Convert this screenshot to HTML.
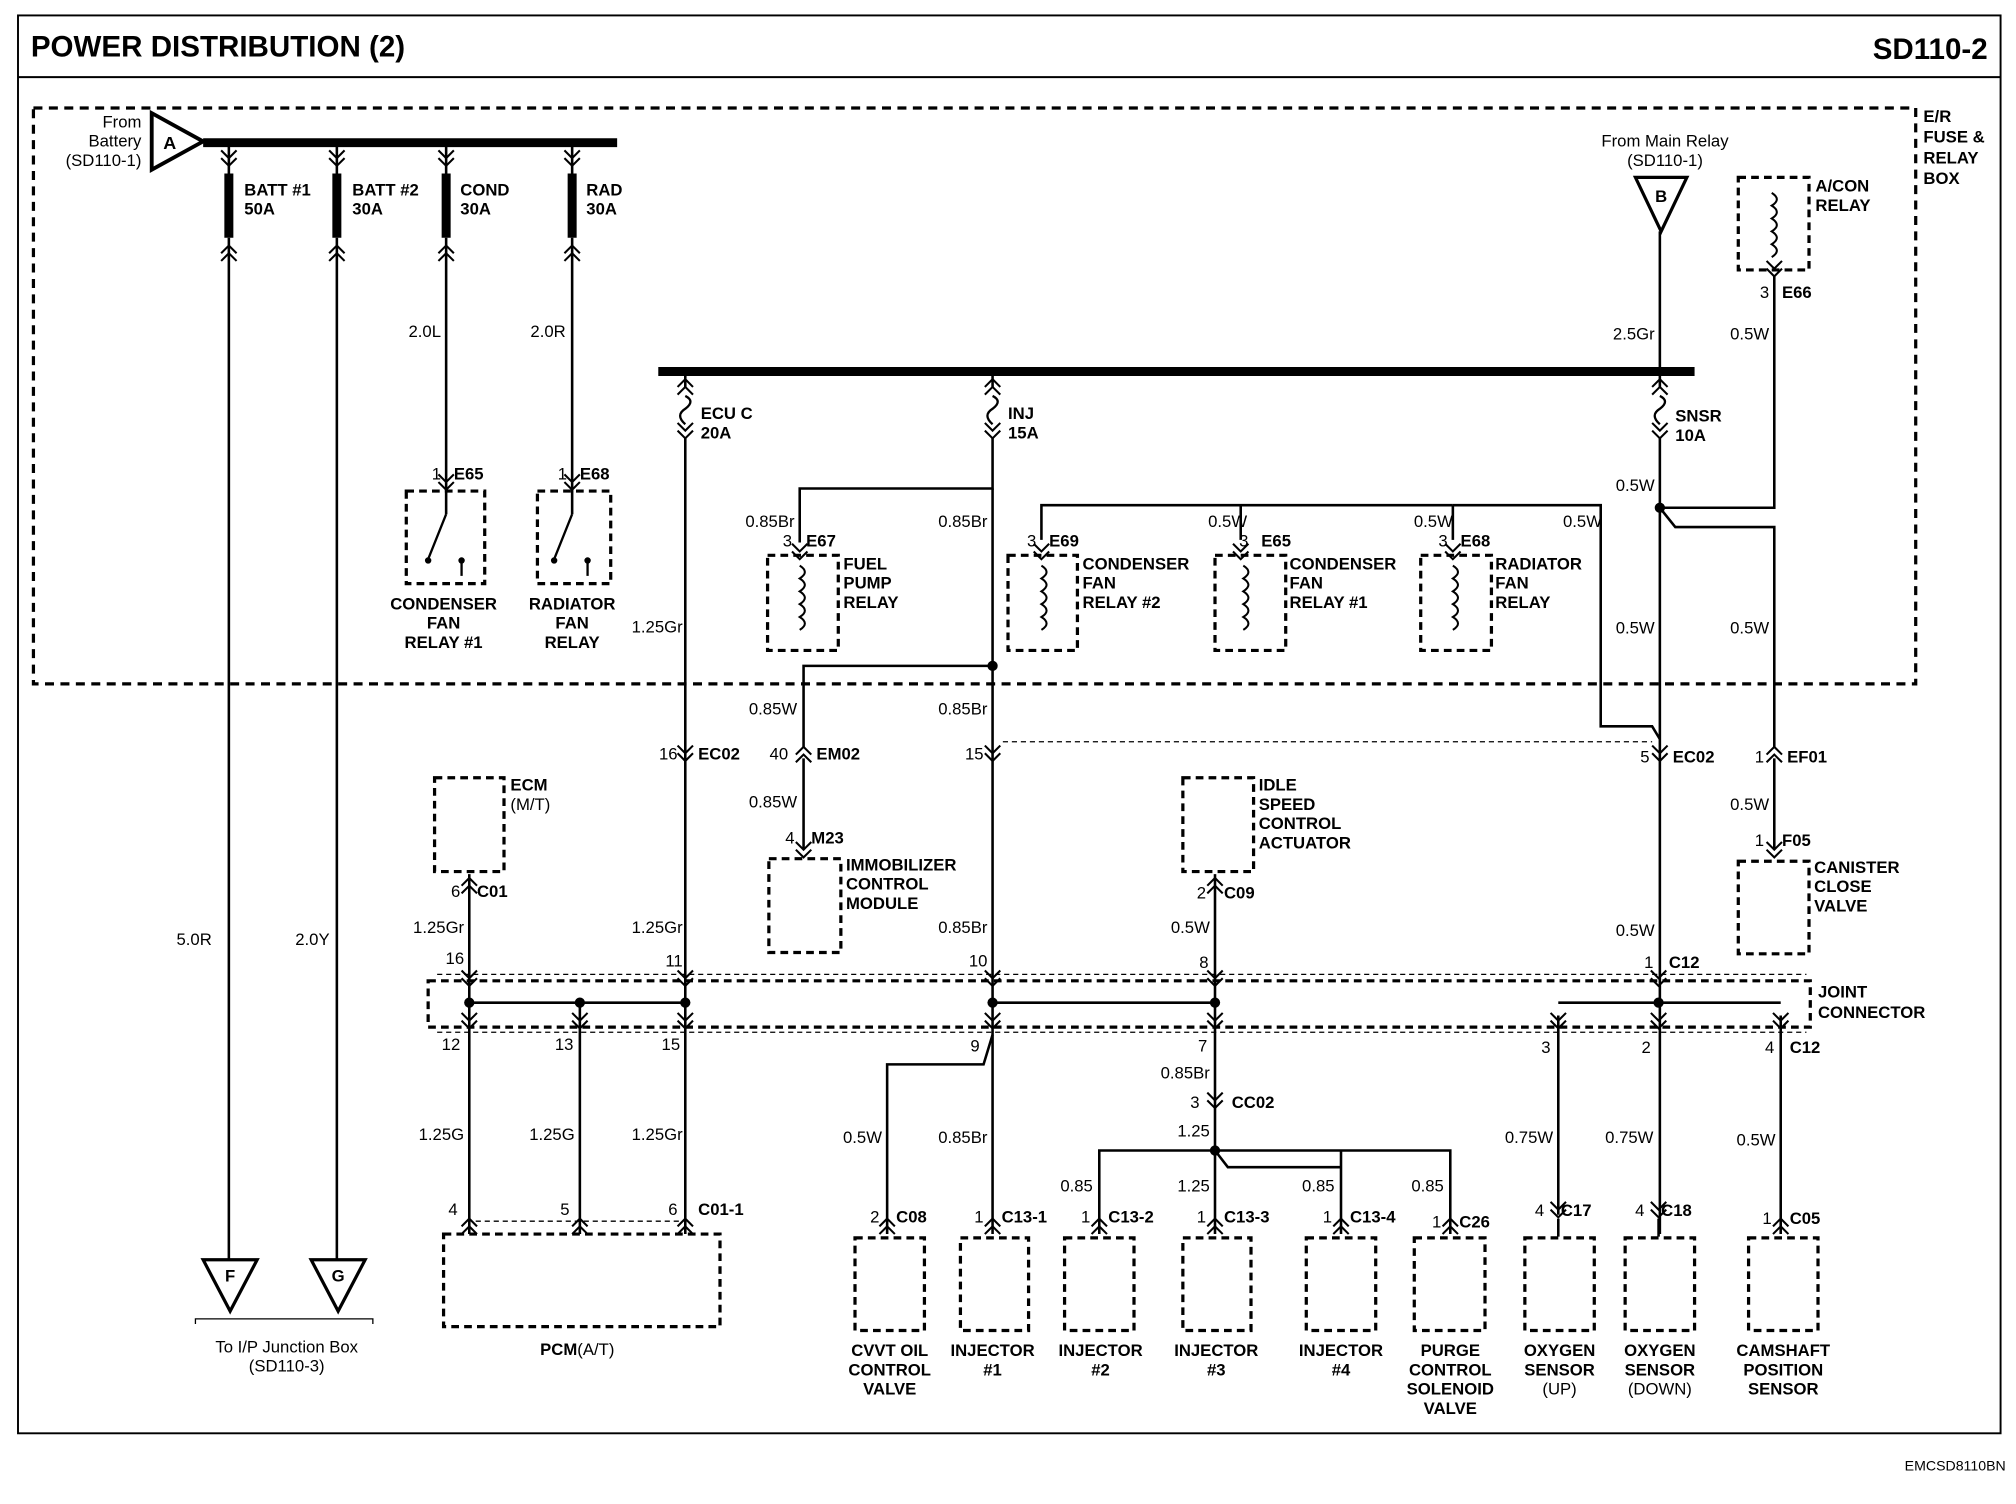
<!DOCTYPE html>
<html><head><meta charset="utf-8"><style>
html,body{margin:0;padding:0;background:#fff}
svg{display:block}
text{font-family:"Liberation Sans",Arial,sans-serif;font-weight:bold;font-size:13px;fill:#000}
.n{font-weight:normal}
</style></head><body>
<svg width="2016" height="1504" viewBox="0 0 1568 1170" preserveAspectRatio="none" xmlns="http://www.w3.org/2000/svg">
<defs>
<g id="cv"><polyline points="-6,-5 0,1 6,-5" fill="none" stroke="#000" stroke-width="1.6"/><polyline points="-6,1 0,7 6,1" fill="none" stroke="#000" stroke-width="1.6"/></g>
<g id="cu"><polyline points="-6,5 0,-1 6,5" fill="none" stroke="#000" stroke-width="1.6"/><polyline points="-6,-1 0,-7 6,-1" fill="none" stroke="#000" stroke-width="1.6"/></g>
<g id="fuse"><use href="#cu" y="-18"/><path d="M0,-12 q8,4 0,10 q-8,5 0,12" fill="none" stroke="#000" stroke-width="1.8"/><use href="#cv" y="14"/></g>
<g id="coil"><path d="M0,0 q8,5 0,10 q8,5 0,10 q8,5 0,10 q8,5 0,10 q8,5 0,10" fill="none" stroke="#000" stroke-width="1.6"/></g>
</defs>
<rect width="1568" height="1170" fill="#fff"/>
<rect x="14" y="12" width="1542" height="1103" fill="none" stroke="#000" stroke-width="1.5"/>
<line x1="14" y1="60" x2="1556" y2="60" stroke="#000" stroke-width="1.5"/>
<text x="24" y="44" style="font-size:23px">POWER DISTRIBUTION (2)</text>
<text x="1546" y="46" text-anchor="end" style="font-size:23px">SD110-2</text>
<text x="1560" y="1144" text-anchor="end" class="n" style="font-size:11px">EMCSD8110BN</text>

<g fill="none" stroke="#000" stroke-width="2.5" stroke-dasharray="7,5">
<rect x="26" y="84" width="1464" height="448"/>
</g>
<text x="1496" y="95">E/R</text><text x="1496" y="111">FUSE &amp;</text><text x="1496" y="127">RELAY</text><text x="1496" y="143">BOX</text>

<!-- top bus -->
<line x1="158" y1="111" x2="480" y2="111" stroke="#000" stroke-width="7"/>
<polygon points="118,88 118,132 158,110" fill="#fff" stroke="#000" stroke-width="3"/>
<text x="127" y="116" style="font-size:14px">A</text>
<text x="110" y="99" class="n" text-anchor="end">From</text><text x="110" y="114" class="n" text-anchor="end">Battery</text><text x="110" y="129" class="n" text-anchor="end">(SD110-1)</text>

<g stroke="#000" fill="none">
<g stroke-width="7"><line x1="178" y1="135" x2="178" y2="185"/><line x1="262" y1="135" x2="262" y2="185"/><line x1="347" y1="135" x2="347" y2="185"/><line x1="445" y1="135" x2="445" y2="185"/></g>
<g stroke-width="2"><line x1="178" y1="111" x2="178" y2="135"/><line x1="262" y1="111" x2="262" y2="135"/><line x1="347" y1="111" x2="347" y2="135"/><line x1="445" y1="111" x2="445" y2="135"/>
<line x1="178" y1="185" x2="178" y2="980"/><line x1="262" y1="185" x2="262" y2="980"/>
<line x1="347" y1="185" x2="347" y2="400"/><line x1="445" y1="185" x2="445" y2="400"/></g>
</g>
<use href="#cv" x="178" y="122"/><use href="#cv" x="262" y="122"/><use href="#cv" x="347" y="122"/><use href="#cv" x="445" y="122"/>
<use href="#cu" x="178" y="198"/><use href="#cu" x="262" y="198"/><use href="#cu" x="347" y="198"/><use href="#cu" x="445" y="198"/>
<text x="190" y="152">BATT #1</text><text x="190" y="167">50A</text>
<text x="274" y="152">BATT #2</text><text x="274" y="167">30A</text>
<text x="358" y="152">COND</text><text x="358" y="167">30A</text>
<text x="456" y="152">RAD</text><text x="456" y="167">30A</text>
<text x="343" y="262" class="n" text-anchor="end">2.0L</text><text x="440" y="262" class="n" text-anchor="end">2.0R</text>
<use href="#cv" x="347" y="374"/><use href="#cv" x="445" y="374"/>
<text x="343" y="373" class="n" text-anchor="end">1</text><text x="353" y="373">E65</text>
<text x="441" y="373" class="n" text-anchor="end">1</text><text x="451" y="373">E68</text>
<g fill="none" stroke="#000" stroke-width="2.5" stroke-dasharray="6,4">
<rect x="316" y="382" width="61" height="72"/><rect x="418" y="382" width="57" height="72"/>
</g>
<g stroke="#000" stroke-width="1.8" fill="none"><line x1="347" y1="400" x2="333" y2="435"/><line x1="445" y1="400" x2="431" y2="435"/><line x1="359" y1="435" x2="359" y2="448"/><line x1="457" y1="435" x2="457" y2="448"/></g>
<circle cx="333" cy="436" r="2.5"/><circle cx="359" cy="436" r="2.5"/><circle cx="431" cy="436" r="2.5"/><circle cx="457" cy="436" r="2.5"/>
<text x="345" y="474" text-anchor="middle">CONDENSER</text><text x="345" y="489" text-anchor="middle">FAN</text><text x="345" y="504" text-anchor="middle">RELAY #1</text>
<text x="445" y="474" text-anchor="middle">RADIATOR</text><text x="445" y="489" text-anchor="middle">FAN</text><text x="445" y="504" text-anchor="middle">RELAY</text>
<text x="151" y="735" class="n" text-anchor="middle">5.0R</text><text x="243" y="735" class="n" text-anchor="middle">2.0Y</text>
<polygon points="158,980 200,980 179,1020" fill="#fff" stroke="#000" stroke-width="2.5"/><text x="179" y="997" text-anchor="middle">F</text>
<polygon points="242,980 284,980 263,1020" fill="#fff" stroke="#000" stroke-width="2.5"/><text x="263" y="997" text-anchor="middle">G</text>
<path d="M152,1030 v-4 h138 v4" fill="none" stroke="#000" stroke-width="1"/>
<text x="223" y="1052" class="n" text-anchor="middle">To I/P Junction Box</text><text x="223" y="1067" class="n" text-anchor="middle">(SD110-3)</text>

<!-- second bus -->
<line x1="512" y1="289" x2="1318" y2="289" stroke="#000" stroke-width="7"/>
<use href="#fuse" x="533" y="320"/><use href="#fuse" x="772" y="320"/><use href="#fuse" x="1291" y="320"/>
<g stroke="#000" stroke-width="2" fill="none">
<line x1="533" y1="289" x2="533" y2="302"/><line x1="772" y1="289" x2="772" y2="302"/><line x1="1291" y1="180" x2="1291" y2="302"/>
<line x1="533" y1="340" x2="533" y2="960"/>
<polyline points="772,340 772,380 622,380 622,422"/>
<line x1="772" y1="380" x2="772" y2="960"/>
<polyline points="772,518 625,518 625,582"/><line x1="625" y1="590" x2="625" y2="660"/>
<line x1="1291" y1="340" x2="1291" y2="960"/>
<polyline points="1380,215 1380,395 1291,395"/>
<polyline points="1291,395 1303,410 1380,410 1380,582"/><line x1="1380" y1="590" x2="1380" y2="660"/>
<polyline points="810,420 810,393 1130,393"/><line x1="965" y1="393" x2="965" y2="420"/><line x1="1130" y1="393" x2="1130" y2="420"/>
<polyline points="1130,393 1245,393 1245,565 1285,565 1291,575"/>
<line x1="365" y1="680" x2="365" y2="960"/><line x1="451" y1="780" x2="451" y2="960"/>
<line x1="945" y1="680" x2="945" y2="895"/>
<polyline points="772,805 765,828 690,828 690,960"/>
<polyline points="855,960 855,895 1128,895 1128,960"/>
<line x1="945" y1="895" x2="945" y2="960"/><line x1="1043" y1="895" x2="1043" y2="960"/>
<polyline points="945,895 955,908 1043,908"/>
<line x1="1212" y1="790" x2="1212" y2="945"/><line x1="1385" y1="790" x2="1385" y2="960"/>
<line x1="365" y1="780" x2="533" y2="780"/><line x1="772" y1="780" x2="945" y2="780"/><line x1="1212" y1="780" x2="1385" y2="780"/>
</g>
<g fill="#000"><circle cx="772" cy="518" r="4"/><circle cx="1291" cy="395" r="4"/><circle cx="365" cy="780" r="4"/><circle cx="451" cy="780" r="4"/><circle cx="533" cy="780" r="4"/><circle cx="772" cy="780" r="4"/><circle cx="945" cy="780" r="4"/><circle cx="1290" cy="780" r="4"/><circle cx="945" cy="895" r="4"/></g>

<polygon points="1272,138 1312,138 1292,180" fill="#fff" stroke="#000" stroke-width="2.5"/><text x="1292" y="157" text-anchor="middle">B</text>
<text x="1295" y="114" class="n" text-anchor="middle">From Main Relay</text><text x="1295" y="129" class="n" text-anchor="middle">(SD110-1)</text>
<text x="1287" y="264" class="n" text-anchor="end">2.5Gr</text><text x="1376" y="264" class="n" text-anchor="end">0.5W</text>
<text x="1303" y="328">SNSR</text><text x="1303" y="343">10A</text>
<text x="545" y="326">ECU C</text><text x="545" y="341">20A</text>
<text x="784" y="326">INJ</text><text x="784" y="341">15A</text>
<text x="1287" y="382" class="n" text-anchor="end">0.5W</text>
<g fill="none" stroke="#000" stroke-width="2.5" stroke-dasharray="6,4"><rect x="1352" y="138" width="55" height="72"/></g>
<use href="#coil" x="1378" y="150"/><use href="#cv" x="1380" y="208"/>
<text x="1412" y="149">A/CON</text><text x="1412" y="164">RELAY</text>
<text x="1376" y="232" class="n" text-anchor="end">3</text><text x="1386" y="232">E66</text>

<!-- relays row -->
<g fill="none" stroke="#000" stroke-width="2.5" stroke-dasharray="6,4">
<rect x="597" y="432" width="55" height="74"/><rect x="784" y="432" width="54" height="74"/><rect x="945" y="432" width="55" height="74"/><rect x="1105" y="432" width="55" height="74"/>
</g>
<use href="#coil" x="622" y="440"/><use href="#coil" x="810" y="440"/><use href="#coil" x="967" y="440"/><use href="#coil" x="1130" y="440"/>
<use href="#cv" x="622" y="428"/><use href="#cv" x="810" y="428"/><use href="#cv" x="965" y="428"/><use href="#cv" x="1130" y="428"/>
<text x="616" y="425" class="n" text-anchor="end">3</text><text x="627" y="425">E67</text>
<text x="806" y="425" class="n" text-anchor="end">3</text><text x="816" y="425">E69</text>
<text x="971" y="425" class="n" text-anchor="end">3</text><text x="981" y="425">E65</text>
<text x="1126" y="425" class="n" text-anchor="end">3</text><text x="1136" y="425">E68</text>
<text x="656" y="443">FUEL</text><text x="656" y="458">PUMP</text><text x="656" y="473">RELAY</text>
<text x="842" y="443">CONDENSER</text><text x="842" y="458">FAN</text><text x="842" y="473">RELAY #2</text>
<text x="1003" y="443">CONDENSER</text><text x="1003" y="458">FAN</text><text x="1003" y="473">RELAY #1</text>
<text x="1163" y="443">RADIATOR</text><text x="1163" y="458">FAN</text><text x="1163" y="473">RELAY</text>
<text x="618" y="410" class="n" text-anchor="end">0.85Br</text><text x="768" y="410" class="n" text-anchor="end">0.85Br</text>
<text x="970" y="410" class="n" text-anchor="end">0.5W</text><text x="1130" y="410" class="n" text-anchor="end">0.5W</text><text x="1246" y="410" class="n" text-anchor="end">0.5W</text>
<text x="1287" y="493" class="n" text-anchor="end">0.5W</text><text x="1376" y="493" class="n" text-anchor="end">0.5W</text>
<text x="531" y="492" class="n" text-anchor="end">1.25Gr</text>

<line x1="780" y1="577" x2="1285" y2="577" stroke="#000" stroke-width="1" stroke-dasharray="4,3"/>
<text x="620" y="556" class="n" text-anchor="end">0.85W</text><text x="768" y="556" class="n" text-anchor="end">0.85Br</text>
<use href="#cv" x="533" y="585"/><use href="#cu" x="625" y="588"/><use href="#cv" x="772" y="585"/><use href="#cv" x="1291" y="585"/><use href="#cu" x="1380" y="588"/>
<text x="527" y="591" class="n" text-anchor="end">16</text><text x="543" y="591">EC02</text>
<text x="613" y="591" class="n" text-anchor="end">40</text><text x="635" y="591">EM02</text>
<text x="765" y="591" class="n" text-anchor="end">15</text>
<text x="1283" y="593" class="n" text-anchor="end">5</text><text x="1301" y="593">EC02</text>
<text x="1372" y="593" class="n" text-anchor="end">1</text><text x="1390" y="593">EF01</text>
<text x="620" y="628" class="n" text-anchor="end">0.85W</text><text x="1376" y="630" class="n" text-anchor="end">0.5W</text>
<use href="#cv" x="625" y="660"/><text x="618" y="656" class="n" text-anchor="end">4</text><text x="631" y="656">M23</text>
<use href="#cv" x="1380" y="660"/><text x="1372" y="658" class="n" text-anchor="end">1</text><text x="1386" y="658">F05</text>

<g fill="none" stroke="#000" stroke-width="2.5" stroke-dasharray="6,4">
<rect x="338" y="605" width="54" height="73"/><rect x="598" y="668" width="56" height="73"/><rect x="920" y="605" width="55" height="73"/><rect x="1352" y="670" width="55" height="72"/>
</g>
<text x="397" y="615">ECM</text><text x="397" y="630" class="n">(M/T)</text>
<text x="658" y="677">IMMOBILIZER</text><text x="658" y="692">CONTROL</text><text x="658" y="707">MODULE</text>
<text x="979" y="615">IDLE</text><text x="979" y="630">SPEED</text><text x="979" y="645">CONTROL</text><text x="979" y="660">ACTUATOR</text>
<text x="1411" y="679">CANISTER</text><text x="1411" y="694">CLOSE</text><text x="1411" y="709">VALVE</text>
<use href="#cu" x="365" y="690"/><text x="358" y="698" class="n" text-anchor="end">6</text><text x="371" y="698">C01</text>
<use href="#cu" x="945" y="690"/><text x="938" y="699" class="n" text-anchor="end">2</text><text x="952" y="699">C09</text>
<text x="361" y="726" class="n" text-anchor="end">1.25Gr</text><text x="531" y="726" class="n" text-anchor="end">1.25Gr</text><text x="768" y="726" class="n" text-anchor="end">0.85Br</text><text x="941" y="726" class="n" text-anchor="end">0.5W</text><text x="1287" y="728" class="n" text-anchor="end">0.5W</text>
<text x="361" y="750" class="n" text-anchor="end">16</text><text x="531" y="752" class="n" text-anchor="end">11</text><text x="768" y="752" class="n" text-anchor="end">10</text><text x="940" y="753" class="n" text-anchor="end">8</text><text x="1286" y="753" class="n" text-anchor="end">1</text><text x="1298" y="753">C12</text>

<!-- joint connector -->
<rect x="333" y="763" width="1075" height="36" fill="none" stroke="#000" stroke-width="2.5" stroke-dasharray="6,4"/>
<line x1="340" y1="758" x2="1405" y2="758" stroke="#000" stroke-width="1" stroke-dasharray="4,3"/>
<line x1="340" y1="803" x2="1405" y2="803" stroke="#000" stroke-width="1" stroke-dasharray="4,3"/>
<text x="1414" y="776">JOINT</text><text x="1414" y="792">CONNECTOR</text>
<g><use href="#cv" x="365" y="760"/><use href="#cv" x="533" y="760"/><use href="#cv" x="772" y="760"/><use href="#cv" x="945" y="760"/><use href="#cv" x="1290" y="760"/>
<use href="#cv" x="365" y="793"/><use href="#cv" x="451" y="793"/><use href="#cv" x="533" y="793"/><use href="#cv" x="772" y="793"/><use href="#cv" x="945" y="793"/><use href="#cv" x="1212" y="793"/><use href="#cv" x="1290" y="793"/><use href="#cv" x="1385" y="793"/></g>
<text x="358" y="817" class="n" text-anchor="end">12</text><text x="446" y="817" class="n" text-anchor="end">13</text><text x="529" y="817" class="n" text-anchor="end">15</text><text x="762" y="818" class="n" text-anchor="end">9</text><text x="939" y="818" class="n" text-anchor="end">7</text>
<text x="1206" y="819" class="n" text-anchor="end">3</text><text x="1284" y="819" class="n" text-anchor="end">2</text><text x="1380" y="819" class="n" text-anchor="end">4</text><text x="1392" y="819">C12</text>
<text x="941" y="839" class="n" text-anchor="end">0.85Br</text>
<use href="#cv" x="945" y="855"/><text x="933" y="862" class="n" text-anchor="end">3</text><text x="958" y="862">CC02</text>
<text x="941" y="884" class="n" text-anchor="end">1.25</text>
<text x="361" y="887" class="n" text-anchor="end">1.25G</text><text x="447" y="887" class="n" text-anchor="end">1.25G</text><text x="531" y="887" class="n" text-anchor="end">1.25Gr</text>
<text x="686" y="889" class="n" text-anchor="end">0.5W</text><text x="768" y="889" class="n" text-anchor="end">0.85Br</text>
<text x="1208" y="889" class="n" text-anchor="end">0.75W</text><text x="1286" y="889" class="n" text-anchor="end">0.75W</text><text x="1381" y="891" class="n" text-anchor="end">0.5W</text>
<text x="850" y="927" class="n" text-anchor="end">0.85</text><text x="941" y="927" class="n" text-anchor="end">1.25</text><text x="1038" y="927" class="n" text-anchor="end">0.85</text><text x="1123" y="927" class="n" text-anchor="end">0.85</text>

<!-- bottom connectors -->
<g><use href="#cu" x="365" y="955"/><use href="#cu" x="451" y="955"/><use href="#cu" x="533" y="955"/><use href="#cu" x="690" y="955"/><use href="#cu" x="772" y="955"/><use href="#cu" x="855" y="955"/><use href="#cu" x="945" y="955"/><use href="#cu" x="1043" y="955"/><use href="#cu" x="1128" y="955"/><use href="#cv" x="1212" y="940"/><use href="#cv" x="1290" y="940"/><use href="#cu" x="1385" y="955"/></g>
<line x1="1212" y1="948" x2="1212" y2="962" stroke="#000" stroke-width="2"/><line x1="1290" y1="948" x2="1290" y2="962" stroke="#000" stroke-width="2"/>
<line x1="370" y1="950" x2="528" y2="950" stroke="#000" stroke-width="1" stroke-dasharray="4,3"/>
<text x="356" y="945" class="n" text-anchor="end">4</text><text x="443" y="945" class="n" text-anchor="end">5</text><text x="527" y="945" class="n" text-anchor="end">6</text><text x="543" y="945">C01-1</text>
<text x="684" y="951" class="n" text-anchor="end">2</text><text x="697" y="951">C08</text>
<text x="765" y="951" class="n" text-anchor="end">1</text><text x="779" y="951">C13-1</text>
<text x="848" y="951" class="n" text-anchor="end">1</text><text x="862" y="951">C13-2</text>
<text x="938" y="951" class="n" text-anchor="end">1</text><text x="952" y="951">C13-3</text>
<text x="1036" y="951" class="n" text-anchor="end">1</text><text x="1050" y="951">C13-4</text>
<text x="1121" y="955" class="n" text-anchor="end">1</text><text x="1135" y="955">C26</text>
<text x="1201" y="946" class="n" text-anchor="end">4</text><text x="1214" y="946">C17</text>
<text x="1279" y="946" class="n" text-anchor="end">4</text><text x="1292" y="946">C18</text>
<text x="1378" y="952" class="n" text-anchor="end">1</text><text x="1392" y="952">C05</text>
<g fill="none" stroke="#000" stroke-width="2.5" stroke-dasharray="6,4">
<rect x="345" y="960" width="215" height="72"/>
<rect x="665" y="963" width="54" height="72"/><rect x="747" y="963" width="53" height="72"/><rect x="828" y="963" width="54" height="72"/><rect x="920" y="963" width="53" height="72"/><rect x="1016" y="963" width="54" height="72"/><rect x="1100" y="963" width="55" height="72"/><rect x="1186" y="963" width="54" height="72"/><rect x="1264" y="963" width="54" height="72"/><rect x="1360" y="963" width="54" height="72"/>
</g>
<text x="449" y="1054" text-anchor="middle">PCM<tspan class="n">(A/T)</tspan></text>
<text x="692" y="1055" text-anchor="middle">CVVT OIL</text><text x="692" y="1070" text-anchor="middle">CONTROL</text><text x="692" y="1085" text-anchor="middle">VALVE</text>
<text x="772" y="1055" text-anchor="middle">INJECTOR</text><text x="772" y="1070" text-anchor="middle">#1</text>
<text x="856" y="1055" text-anchor="middle">INJECTOR</text><text x="856" y="1070" text-anchor="middle">#2</text>
<text x="946" y="1055" text-anchor="middle">INJECTOR</text><text x="946" y="1070" text-anchor="middle">#3</text>
<text x="1043" y="1055" text-anchor="middle">INJECTOR</text><text x="1043" y="1070" text-anchor="middle">#4</text>
<text x="1128" y="1055" text-anchor="middle">PURGE</text><text x="1128" y="1070" text-anchor="middle">CONTROL</text><text x="1128" y="1085" text-anchor="middle">SOLENOID</text><text x="1128" y="1100" text-anchor="middle">VALVE</text>
<text x="1213" y="1055" text-anchor="middle">OXYGEN</text><text x="1213" y="1070" text-anchor="middle">SENSOR</text><text x="1213" y="1085" class="n" text-anchor="middle">(UP)</text>
<text x="1291" y="1055" text-anchor="middle">OXYGEN</text><text x="1291" y="1070" text-anchor="middle">SENSOR</text><text x="1291" y="1085" class="n" text-anchor="middle">(DOWN)</text>
<text x="1387" y="1055" text-anchor="middle">CAMSHAFT</text><text x="1387" y="1070" text-anchor="middle">POSITION</text><text x="1387" y="1085" text-anchor="middle">SENSOR</text>
</svg>
</body></html>
